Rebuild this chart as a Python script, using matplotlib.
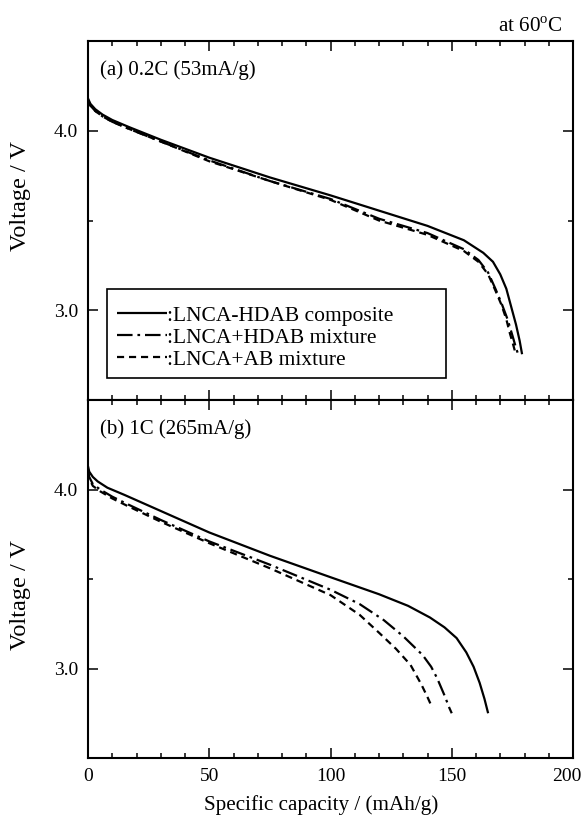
import matplotlib
matplotlib.use("Agg")
import matplotlib.pyplot as plt
import matplotlib.transforms as mtransforms
from matplotlib.patches import Rectangle
from matplotlib.ticker import MultipleLocator, FormatStrFormatter

plt.rcParams['font.family'] = ['Liberation Serif', 'DejaVu Serif']
plt.rcParams['mathtext.fontset'] = 'custom'
plt.rcParams['mathtext.rm'] = 'Liberation Serif'

# ---- discharge curves, 0.2C (53 mA/g) ----
a_comp_cap = [0, 1, 3, 6, 10, 17, 30, 50, 75, 100, 120, 140, 155, 163, 167, 170, 172.5, 174.5, 176.5, 178, 179]
a_comp_v   = [4.18, 4.15, 4.12, 4.09, 4.06, 4.02, 3.95, 3.85, 3.74, 3.64, 3.555, 3.47, 3.39, 3.32, 3.27, 3.20, 3.12, 3.02, 2.92, 2.83, 2.755]

a_hdab_cap = [0, 1, 3, 6, 10, 17, 30, 50, 75, 100, 120, 140, 155, 161, 165, 168, 170.5, 173, 175, 176.5, 177.5]
a_hdab_v   = [4.17, 4.14, 4.11, 4.08, 4.05, 4.01, 3.94, 3.835, 3.72, 3.62, 3.51, 3.43, 3.34, 3.28, 3.21, 3.12, 3.04, 2.95, 2.86, 2.79, 2.75]

a_ab_cap = [0, 1, 3, 6, 10, 17, 30, 50, 75, 100, 120, 140, 155, 161, 165, 168, 170.5, 172.5, 174, 175.5, 176.5]
a_ab_v   = [4.17, 4.14, 4.11, 4.08, 4.05, 4.01, 3.94, 3.83, 3.72, 3.615, 3.50, 3.42, 3.33, 3.27, 3.20, 3.11, 3.03, 2.95, 2.87, 2.80, 2.75]

# ---- discharge curves, 1C (265 mA/g) ----
b_comp_cap = [0, 0.5, 2, 4, 8, 15, 30, 50, 75, 100, 120, 132, 141, 147, 152, 156, 159, 161.5, 163.5, 165]
b_comp_v   = [4.13, 4.10, 4.07, 4.045, 4.01, 3.97, 3.88, 3.76, 3.63, 3.51, 3.415, 3.35, 3.285, 3.23, 3.17, 3.09, 3.01, 2.92, 2.83, 2.75]

b_hdab_cap = [0, 0.5, 2, 5, 10, 16, 30, 50, 75, 100, 112, 122, 130, 138, 141.5, 144, 147, 149, 150]
b_hdab_v   = [4.11, 4.07, 4.03, 4.00, 3.96, 3.92, 3.83, 3.71, 3.58, 3.44, 3.36, 3.27, 3.18, 3.075, 3.01, 2.945, 2.85, 2.78, 2.75]

b_ab_cap = [0, 0.5, 2, 5, 10, 16, 30, 50, 75, 100, 112, 120, 127, 133, 137.5, 140, 142]
b_ab_v   = [4.10, 4.06, 4.02, 3.99, 3.95, 3.91, 3.82, 3.70, 3.56, 3.41, 3.30, 3.20, 3.11, 3.02, 2.91, 2.84, 2.78]

series_labels = [':LNCA-HDAB composite', ':LNCA+HDAB mixture', ':LNCA+AB mixture']
panel_titles = ['(a) 0.2C (53mA/g)', '(b) 1C (265mA/g)']

styles = ['-', (0, (7, 2.2, 1.2, 2.2)), (0, (3.2, 2.2))]

fig = plt.figure(figsize=(5.83, 8.18), dpi=100)
ax_a = fig.add_axes([88 / 583, 418 / 818, 485 / 583, 359 / 818])
ax_b = fig.add_axes([88 / 583, 60 / 818, 485 / 583, 358 / 818])

panels = [
    (ax_a, [(a_comp_cap, a_comp_v), (a_hdab_cap, a_hdab_v), (a_ab_cap, a_ab_v)]),
    (ax_b, [(b_comp_cap, b_comp_v), (b_hdab_cap, b_hdab_v), (b_ab_cap, b_ab_v)]),
]
ylabel_y = [0.568, 0.455]

for i, (ax, curves) in enumerate(panels):
    for (cap, v), ls, lab in zip(curves, styles, series_labels):
        ax.plot(cap, v, color='black', lw=1.6, linestyle=ls, label=lab,
                solid_capstyle='butt', dash_capstyle='butt')
    ax.set_xlim(0, 200)
    ax.set_ylim(2.5, 4.5)
    ax.xaxis.set_major_locator(MultipleLocator(50))
    ax.xaxis.set_minor_locator(MultipleLocator(10))
    ax.yaxis.set_major_locator(MultipleLocator(1.0))
    ax.yaxis.set_minor_locator(MultipleLocator(0.5))
    ax.yaxis.set_major_formatter(FormatStrFormatter('%.1f'))
    ax.tick_params(which='both', direction='in', top=True, right=True,
                   width=1.1, labelsize=14, pad=7)
    ax.tick_params(which='major', length=7.5)
    ax.tick_params(which='minor', length=3.8)
    for sp in ax.spines.values():
        sp.set_linewidth(1.5)
    ax.set_ylabel('Voltage / V', fontsize=17.5, va='center')
    ax.yaxis.set_label_coords(-0.14, ylabel_y[i])
    ax.text(0.025, 0.945, panel_titles[i], transform=ax.transAxes,
            fontsize=15, ha='left', va='top')

ax_a.tick_params(labelbottom=False)
ax_b.set_xlabel('Specific capacity / (mAh/g)', fontsize=15.2, va='center')
ax_b.xaxis.set_label_coords(0.48, -0.131)

# keep the "200" tick label inside the figure
fig.canvas.draw()
for tick in ax_b.xaxis.get_major_ticks():
    if abs(tick.get_loc() - 200) < 1e-6:
        tick.label1.set_transform(tick.label1.get_transform() +
                                  mtransforms.ScaledTranslation(-6 / 100, 0, fig.dpi_scale_trans))

# legend: framed box drawn separately, entries placed inside it
box = Rectangle((0.039, 0.0613), 0.699, 0.2477, transform=ax_a.transAxes,
                facecolor='white', edgecolor='black', lw=1.2, zorder=4)
ax_a.add_patch(box)
leg = ax_a.legend(loc='upper left', bbox_to_anchor=(0.0598, 0.262), borderaxespad=0,
                  fontsize=15.5, handlelength=2.3, handletextpad=0.0,
                  labelspacing=0.08, borderpad=0.0, frameon=False)
leg.set_zorder(5)

fig.text(563 / 583, 1 - 32 / 818, r'at 60$^{\mathrm{o}}$C', fontsize=15.2,
         ha='right', va='baseline')

fig.savefig('out.png', dpi=100)
